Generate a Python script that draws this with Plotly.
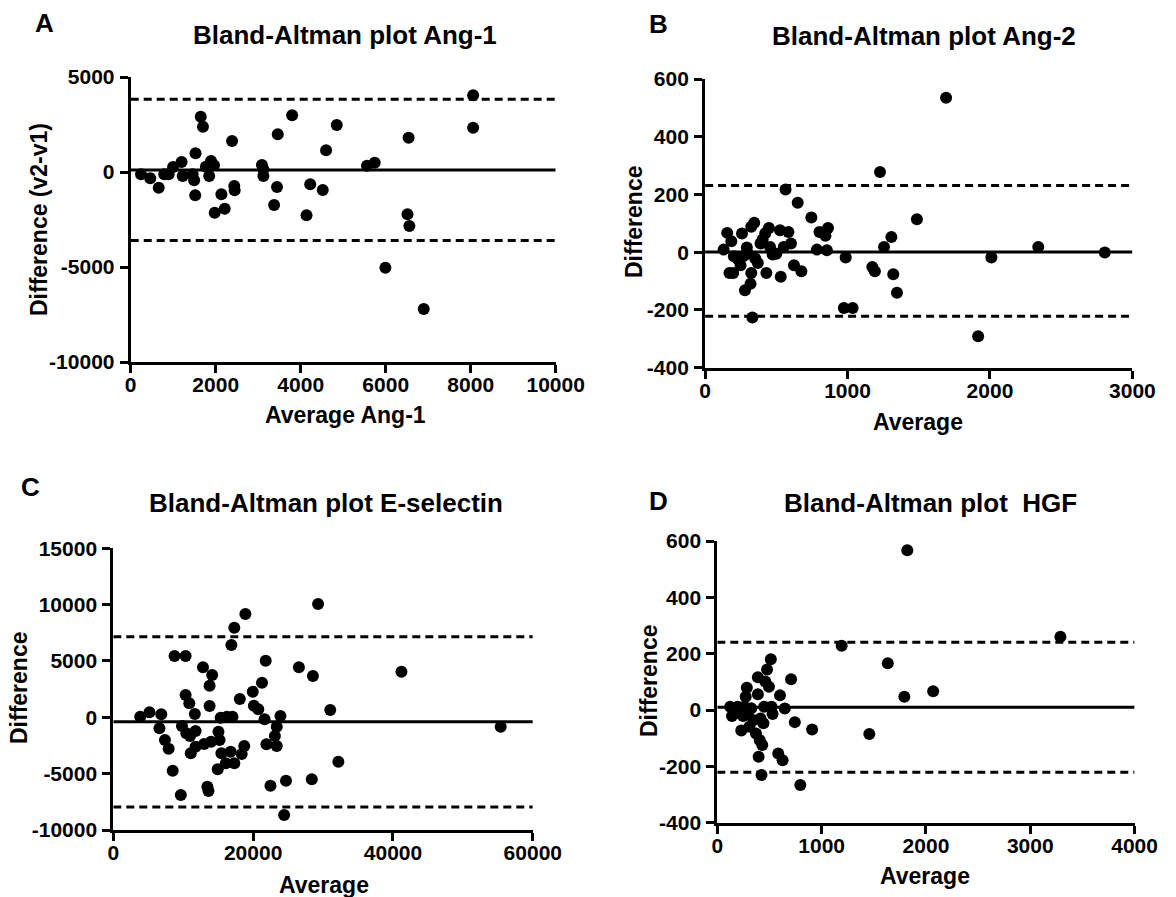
import plotly.graph_objects as go

W, H = 1176, 897

# ---------------- data ----------------
# Panel A: Ang-1
ang1_avg = [243, 460, 659, 789, 893, 997, 1197, 1223, 1457, 1492, 1526, 1518, 1648, 1700, 1769,
            1847, 1890, 1960, 1977, 2134, 2212, 2385, 2437, 2446, 3088, 3122, 3122, 3374, 3443, 3460,
            3799, 4137, 4224, 4519, 4597, 4848, 5560, 5741, 5993, 6513, 6539, 6557, 6895, 8057, 8057]
ang1_diff = [-123, -333, -825, -123, -123, 263, 526, -210, -123, -439, 982, -1228, 2912, 2386, 280,
             -210, 579, 351, -2140, -1175, -1930, 1632, -737, -965, 368, 140, -210, -1737, -789, 1982,
             2982, -2281, -649, -947, 1140, 2474, 333, 491, -5035, -2228, 1807, -2842, -7210, 4035, 2333]
ang1_bias, ang1_upper, ang1_lower = 100, 3830, -3600

# Panel B: Ang-2
ang2_avg = [130, 155, 171, 184, 197, 202, 233, 249, 259, 267, 280, 293, 301, 319, 324, 324, 345, 332,
            352, 370, 389, 404, 430, 422, 448, 456, 474, 500, 526, 531, 552, 565, 585, 603, 624, 650,
            676, 746, 785, 803, 845, 855, 863, 987, 974, 1036, 1174, 1192, 1228, 1256, 1308, 1321,
            1347, 1487, 1692, 1917, 2010, 2339, 2806]
ang2_diff = [9, 67, -72, 38, -72, -14, -25, -45, 65, -14, -132, 16, -5, -109, -72, 88, 102, -226,
             -22, -37, 30, 44, -72, 65, 84, 18, -8, -5, 76, -85, 18, 217, 70, 30, -45, 171,
             -66, 120, 9, 70, 57, 7, 84, -18, -193, -193, -51, -66, 278, 18, 53, -76,
             -140, 114, 535, -291, -18, 18, -1]
ang2_bias, ang2_upper, ang2_lower = 1, 231, -222

# Panel C: E-selectin
esel_avg = [3852, 5172, 6860, 6596, 7388, 7916, 8496, 8760, 9657, 9815, 10343, 10343, 10449, 10871,
            10976, 11082, 11662, 11768, 11768, 12823, 12982, 13456, 13615, 13773, 13773, 13984, 14142,
            15040, 15198, 14934, 15356, 15462, 16095, 16253, 16887, 17045, 16781, 17309, 17309, 18100,
            18364, 18734, 18892, 19947, 20106, 20739, 21266, 21636, 21794, 21900, 22480, 23113, 23377,
            23377, 23905, 24433, 24697, 26544, 28391, 28549, 29288, 31029, 32190, 41214, 55409]
esel_diff = [59, 444, 266, -976, -2012, -2781, -4734, 5444, -6893, -769, 5444, 1982, -1420, 1243,
             -1657, -3195, 296, -1213, -2604, 4438, -2367, -6154, -6538, 2811, 1006, -2160, 3757,
             -1272, -2012, -4615, -30, -3195, -4083, 59, 6420, 59, -3047, 7959, -4083, 1627,
             -3254, -2544, 9172, 2278, 1036, 710, 3077, -177, 5030, -2396, -6065, -1657, -828,
             -2544, 118, -8669, -5621, 4438, -5503, 3669, 10059, 651, -3935, 4053, -828]
esel_bias, esel_upper, esel_lower = -385, 7160, -7960

# Panel D: HGF
hgf_avg = [124, 141, 177, 195, 212, 230, 248, 258, 272, 283, 294, 308, 325, 347, 371, 389, 389, 396,
           407, 414, 424, 431, 442, 449, 460, 477, 495, 513, 520, 530, 601, 647, 584, 626, 707, 743,
           796, 909, 1192, 1457, 1634, 1793, 1821, 2069, 3289]
hgf_diff = [12, -21, -2, 12, -12, -73, -21, 12, 47, 79, -12, -59, 6, -36, -83, 116, 56, -166,
            -107, -30, -231, -124, -47, 12, 101, 144, 83, 180, 12, -14, 52, 5, -154, -178, 109, -43,
            -266, -69, 228, -85, 166, 47, 567, 67, 260]
hgf_bias, hgf_upper, hgf_lower = 10, 241, -221

# Axis ticks
ang1_xticks = [0, 2000, 4000, 6000, 8000, 10000]
ang1_yticks = [-10000, -5000, 0, 5000]
ang2_xticks = [0, 1000, 2000, 3000]
ang2_yticks = [-400, -200, 0, 200, 400, 600]
esel_xticks = [0, 20000, 40000, 60000]
esel_yticks = [-10000, -5000, 0, 5000, 10000, 15000]
hgf_xticks = [0, 1000, 2000, 3000, 4000]
hgf_yticks = [-400, -200, 0, 200, 400, 600]

# ---------------- layout helpers ----------------
FONT = "Liberation Sans, Arial, Helvetica, sans-serif"


def px_x(p):
    return p / W


def px_y(p):
    return 1 - p / H


panels = [
    dict(letter="A", title="Bland-Altman plot Ang-1", xtitle="Average Ang-1", ytitle="Difference (v2-v1)",
         x=ang1_avg, y=ang1_diff, lines=(ang1_bias, ang1_upper, ang1_lower),
         xticks=ang1_xticks, yticks=ang1_yticks,
         box=(130.7, 555.7, 77, 362),
         letter_pos=(44, 23), title_pos=(345, 35), xt_pos=(345, 415), yt_pos=(39, 220)),
    dict(letter="B", title="Bland-Altman plot Ang-2", xtitle="Average", ytitle="Difference",
         x=ang2_avg, y=ang2_diff, lines=(ang2_bias, ang2_upper, ang2_lower),
         xticks=ang2_xticks, yticks=ang2_yticks,
         box=(705.1, 1132.4, 79, 367.7),
         letter_pos=(658, 24), title_pos=(924, 36), xt_pos=(918, 422), yt_pos=(634, 222)),
    dict(letter="C", title="Bland-Altman plot E-selectin", xtitle="Average", ytitle="Difference",
         x=esel_avg, y=esel_diff, lines=(esel_bias, esel_upper, esel_lower),
         xticks=esel_xticks, yticks=esel_yticks,
         box=(113.3, 532.8, 548.3, 830),
         letter_pos=(30, 487), title_pos=(326, 503), xt_pos=(324, 885), yt_pos=(19, 688)),
    dict(letter="D", title="Bland-Altman plot  HGF", xtitle="Average", ytitle="Difference",
         x=hgf_avg, y=hgf_diff, lines=(hgf_bias, hgf_upper, hgf_lower),
         xticks=hgf_xticks, yticks=hgf_yticks,
         box=(717.3, 1134.6, 541, 822.7),
         letter_pos=(658, 501), title_pos=(930, 503), xt_pos=(925, 876), yt_pos=(649, 681)),
]

fig = go.Figure()
layout = dict(
    template="none",
    width=W, height=H, margin=dict(l=0, r=0, t=0, b=0, pad=0, autoexpand=False),
    paper_bgcolor="white", plot_bgcolor="white", showlegend=False,
    font=dict(family=FONT, color="black"),
)
shapes, annotations = [], []


def tick_text(vals):
    return [str(v) for v in vals]


def ann(text, pos, size, angle=0):
    annotations.append(dict(
        text=text, x=px_x(pos[0]), y=px_y(pos[1]), xref="paper", yref="paper",
        xanchor="center", yanchor="middle", showarrow=False, textangle=angle,
        font=dict(family=FONT, size=size, color="black", weight="bold"),
    ))


for i, p in enumerate(panels, start=1):
    sfx = "" if i == 1 else str(i)
    xa, ya = "x" + sfx, "y" + sfx
    x0, x1, y0, y1 = p["box"]
    xt, yt = p["xticks"], p["yticks"]
    axis_common = dict(
        automargin=False,
        showgrid=False, zeroline=False, showline=True, linecolor="black", linewidth=3,
        ticks="outside", ticklen=8, tickwidth=3, tickcolor="black",
        tickfont=dict(family=FONT, size=21, color="black", weight="bold"),
        fixedrange=True,
    )
    layout["xaxis" + sfx] = dict(
        axis_common, domain=[px_x(x0), px_x(x1)], range=[xt[0], xt[-1]], anchor=ya,
        tickvals=xt, ticktext=tick_text(xt), ticklabelstandoff=-6,
    )
    layout["yaxis" + sfx] = dict(
        axis_common, domain=[px_y(y1), px_y(y0)], range=[yt[0], yt[-1]], anchor=xa,
        tickvals=yt, ticktext=tick_text(yt), ticklabelstandoff=1,
    )

    bias, upper, lower = p["lines"]
    shapes.append(dict(type="line", xref=xa, yref=ya, x0=xt[0], x1=xt[-1], y0=bias, y1=bias,
                       line=dict(color="black", width=3), layer="below"))
    for lim in (upper, lower):
        shapes.append(dict(type="line", xref=xa, yref=ya, x0=xt[0], x1=xt[-1], y0=lim, y1=lim,
                           line=dict(color="black", width=3, dash="8px,5px"), layer="below"))

    fig.add_trace(go.Scatter(
        x=p["x"], y=p["y"], mode="markers", xaxis=xa, yaxis=ya, cliponaxis=False,
        marker=dict(size=12, color="black", line=dict(width=0)), hoverinfo="skip",
    ))

    ann(p["letter"], p["letter_pos"], 26)
    ann(p["title"], p["title_pos"], 26)
    ann(p["xtitle"], p["xt_pos"], 23)
    ann(p["ytitle"], p["yt_pos"], 23, angle=-90)

layout["shapes"] = shapes
layout["annotations"] = annotations
fig.update_layout(**layout)
fig.write_html("out.html", config={"displayModeBar": False})
